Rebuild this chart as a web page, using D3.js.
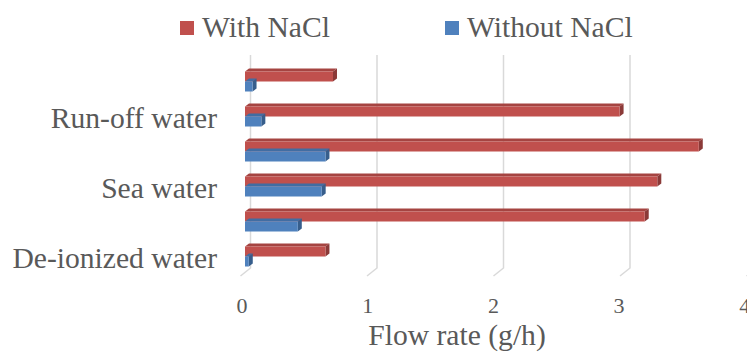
<!DOCTYPE html>
<html><head><meta charset="utf-8">
<script src="https://cdn.jsdelivr.net/npm/d3@7"></script>
<style>body{margin:0;background:#fff}svg{display:block}text{font-family:"Liberation Serif","Times New Roman",serif;fill:#595959}</style>
</head><body><svg id="c" width="747" height="356"></svg>
<script>
// Data (top row to bottom row)
const rows = [0,1,2,3,4,5];
const rowLabels = ["", "Run-off water", "", "Sea water", "", "De-ionized water"];
const withNaCl    = [0.70, 2.98, 3.61, 3.28, 3.18, 0.64];
const withoutNaCl = [0.06, 0.13, 0.64, 0.61, 0.42, 0.03];
const xTicks = [0,1,2,3,4];
const seriesNames = ["With NaCl","Without NaCl"];
const colors = {front:["#c0504d","#4f81bd"], side:["#8b3a38","#375e8c"], top:["#a54441","#416da3"]};

const svg = d3.select("#c");
const x = d3.scaleLinear().domain([0,4]).range([245, 747.8]);      // front plane
const xBack = d3.scaleLinear().domain([0,4]).range([250.5, 756.5]); // back wall
const y = d3.scaleBand().domain(rows).range([64, 274]);
const ys = d3.scaleBand().domain([0,1]).range([7.5, 27.5]);
const dx = 4, dy = 3;

// gridlines
const g = svg.append("g");
xTicks.forEach(t => {
  const gx = xBack(t);
  g.append("path").attr("d", `M${gx},55 L${gx},268 L${gx-10},276`)
    .attr("fill","none").attr("stroke","#d9d9d9").attr("stroke-width",1.5);
});

// bars
const series = [withNaCl, withoutNaCl];
series.forEach((vals, s) => {
  rows.forEach(r => {
    const x0 = x(0), x1 = x(vals[r]);
    const yt = y(r) + ys(s), h = ys.bandwidth();
    svg.append("path").attr("d", `M${x0},${yt} L${x0+dx},${yt-dy} L${x1+dx},${yt-dy} L${x1},${yt} Z`)
      .attr("fill", colors.top[s]);
    svg.append("path").attr("d", `M${x1},${yt} L${x1+dx},${yt-dy} L${x1+dx},${yt+h-dy} L${x1},${yt+h} Z`)
      .attr("fill", colors.side[s]);
    svg.append("rect").attr("x", x0).attr("y", yt).attr("width", x1-x0).attr("height", h)
      .attr("fill", colors.front[s]);
  });
});

// category labels
rows.forEach(r => {
  if (!rowLabels[r]) return;
  svg.append("text").attr("x", 217).attr("y", y(r) + y.bandwidth()/2 + 11)
    .attr("text-anchor","end").attr("font-size", 29.6).text(rowLabels[r]);
});

// x tick labels
xTicks.forEach(t => {
  svg.append("text").attr("x", x(t) - 3).attr("y", 313).attr("text-anchor","middle")
    .attr("font-size", 22).text(t);
});

// axis title
svg.append("text").attr("x", 457).attr("y", 345).attr("text-anchor","middle")
  .attr("font-size", 29.6).text("Flow rate (g/h)");

// legend
const legX = [180, 445];
seriesNames.forEach((n, i) => {
  svg.append("rect").attr("x", legX[i]).attr("y", 21).attr("width", 14).attr("height", 14)
    .attr("fill", colors.front[i]);
  svg.append("text").attr("x", legX[i] + 22).attr("y", 37).attr("font-size", 29.6).text(n);
});
</script></body></html>
